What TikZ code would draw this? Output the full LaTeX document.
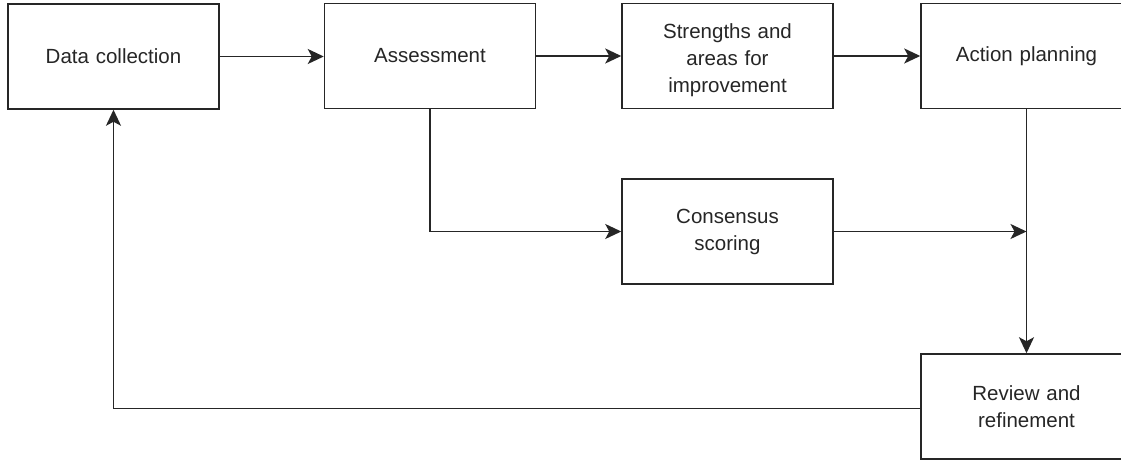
\documentclass[tikz,border=0pt]{standalone}
\usepackage{fontspec}
\setmainfont{Liberation Sans}
\usetikzlibrary{arrows.meta}
\begin{document}
\begin{tikzpicture}[x=1pt,y=1pt,
  boxtext/.style={text width=190pt, align=center, inner sep=0pt, text=black!85,
    font=\fontsize{20.5pt}{27pt}\selectfont},
  box/.style={boxtext, draw=black!85, line width=1.5pt, fill=white, minimum width=211pt, minimum height=105pt},
  conn/.style={draw=black!85, line width=1.6pt, -{Stealth[length=16pt,width=15pt,inset=4pt]}}]
\useasboundingbox (0,0) rectangle (1121,460);
\clip (0,0) rectangle (1121,460);
\fill[white] (0,0) rectangle (1121,460);
\node[box] (dc) at (113.5,403.5) {Data collection};
\node[box] (as) at (430,404) {Assessment};
\node[box, label={[boxtext, yshift=-4pt]center:Strengths and\\areas for\\improvement}] (st) at (727.5,404) {};
\node[box] (ap) at (1026.5,404) {Action planning};
\node[box] (cs) at (727.5,228.5) {Consensus\\scoring};
\node[box] (rv) at (1026.5,53.5) {Review and\\refinement};
\coordinate (mj) at (cs.east -| ap.south);
\draw[conn] (dc.east) -- (dc.east -| as.west);
\draw[conn] (as.east) -- (st.west);
\draw[conn] (st.east) -- (ap.west);
\draw[conn] (as.south) |- (cs.west);
\draw[conn] (ap.south) -- (rv.north);
\draw[conn] (cs.east) -- (mj);
\draw[conn] ([yshift=-2pt]rv.west) -| (dc.south);
\end{tikzpicture}
\end{document}
